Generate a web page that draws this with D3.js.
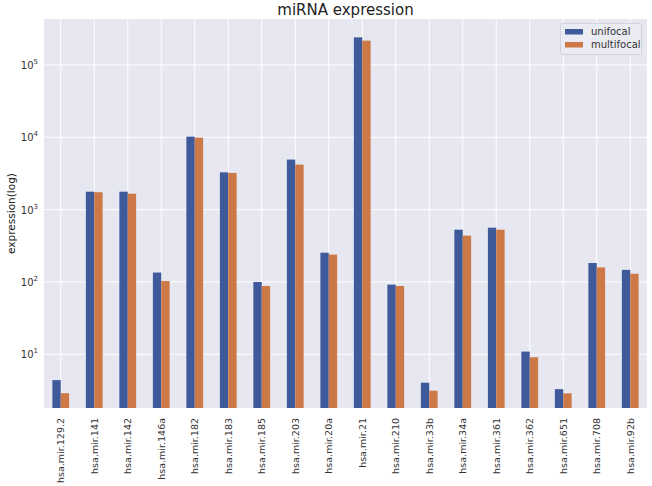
<!DOCTYPE html>
<html>
<head>
<meta charset="utf-8">
<script src="https://cdn.jsdelivr.net/npm/d3@7"></script>
<style>
  html, body { margin: 0; padding: 0; background: #ffffff; }
  text { font-family: "DejaVu Sans", sans-serif; }
</style>
</head>
<body>
<svg id="chart" width="652" height="486"></svg>
<script>
const categories = ["hsa.mir.129.2","hsa.mir.141","hsa.mir.142","hsa.mir.146a","hsa.mir.182","hsa.mir.183","hsa.mir.185","hsa.mir.203","hsa.mir.20a","hsa.mir.21","hsa.mir.210","hsa.mir.33b","hsa.mir.34a","hsa.mir.361","hsa.mir.362","hsa.mir.651","hsa.mir.708","hsa.mir.92b"];
const unifocal =   [4.4, 1770, 1770, 135, 10200, 3280, 100, 4920, 254, 241000, 92, 4.05, 528, 563, 10.9, 3.3, 183, 147];
const multifocal = [2.9, 1740, 1660, 103, 9900, 3220, 88, 4190, 239, 217000, 88, 3.14, 437, 528, 9.1, 2.89, 159, 130];
const seriesNames = ["unifocal", "multifocal"];
const seriesColors = ["#3f5a9b", "#cc7947"];
const yTickExps = [1, 2, 3, 4, 5];
const yDomain = [1.81, 432000];

const svg = d3.select("#chart");
const margin = {left: 44, right: 5, top: 19, bottom: 78};
const W = 652, H = 486;
const x0 = margin.left, x1 = W - margin.right, y0 = margin.top, y1 = H - margin.bottom;

const x = d3.scaleBand().domain(categories).range([x0, x1]).paddingInner(0).paddingOuter(0);
const xs = d3.scaleBand().domain(seriesNames).range([x.bandwidth() * 0.25, x.bandwidth() * 0.75]);
const y = d3.scaleLog().domain(yDomain).range([y1, y0]);

// background
svg.append("rect").attr("x", x0).attr("y", y0).attr("width", x1 - x0).attr("height", y1 - y0).attr("fill", "#e6e7f0");

// grid
svg.append("g").selectAll("line").data(yTickExps).join("line")
  .attr("x1", x0).attr("x2", x1)
  .attr("y1", d => y(Math.pow(10, d))).attr("y2", d => y(Math.pow(10, d)))
  .attr("stroke", "#ffffff").attr("stroke-width", 1);
svg.append("g").selectAll("line").data(categories).join("line")
  .attr("x1", d => x(d) + x.bandwidth() / 2).attr("x2", d => x(d) + x.bandwidth() / 2)
  .attr("y1", y0).attr("y2", y1)
  .attr("stroke", "#ffffff").attr("stroke-width", 1);

// bars
const rows = categories.map((c, i) => ({cat: c, vals: [unifocal[i], multifocal[i]]}));
const g = svg.append("g");
rows.forEach(r => {
  r.vals.forEach((v, j) => {
    g.append("rect")
      .attr("x", x(r.cat) + xs(seriesNames[j]))
      .attr("width", xs.bandwidth())
      .attr("y", y(v))
      .attr("height", y1 - y(v))
      .attr("fill", seriesColors[j]);
  });
});

// y tick labels
const yt = svg.append("g").selectAll("text").data(yTickExps).join("text")
  .attr("x", 38).attr("y", d => y(Math.pow(10, d)) + 4)
  .attr("text-anchor", "end").attr("font-size", 10).attr("fill", "#333");
yt.append("tspan").text("10");
yt.append("tspan").attr("dy", -5).attr("font-size", 7).text(d => d);

// x tick labels
svg.append("g").selectAll("text").data(categories).join("text")
  .attr("transform", d => `translate(${x(d) + x.bandwidth() / 2 + 3.5},${y1 + 10}) rotate(-90)`)
  .attr("text-anchor", "end").attr("font-size", 9.5).attr("fill", "#333")
  .text(d => d);

// y axis label
svg.append("text")
  .attr("transform", `translate(15,${(y0 + y1) / 2}) rotate(-90)`)
  .attr("text-anchor", "middle").attr("font-size", 10.5).attr("fill", "#222")
  .text("expression(log)");

// title
svg.append("text")
  .attr("x", (x0 + x1) / 2).attr("y", 15)
  .attr("text-anchor", "middle").attr("font-size", 15).attr("fill", "#222")
  .text("miRNA expression");

// legend
const lg = svg.append("g");
lg.append("rect").attr("x", 560.5).attr("y", 23.5).attr("width", 81).attr("height", 31)
  .attr("rx", 2).attr("fill", "#eaebf3").attr("stroke", "#d2d3da");
seriesNames.forEach((s, i) => {
  lg.append("rect").attr("x", 565).attr("y", 29 + i * 13).attr("width", 18).attr("height", 5.5)
    .attr("fill", seriesColors[i]);
  lg.append("text").attr("x", 591).attr("y", 35 + i * 13)
    .attr("font-size", 10).attr("fill", "#333").text(s);
});
</script>
</body>
</html>
